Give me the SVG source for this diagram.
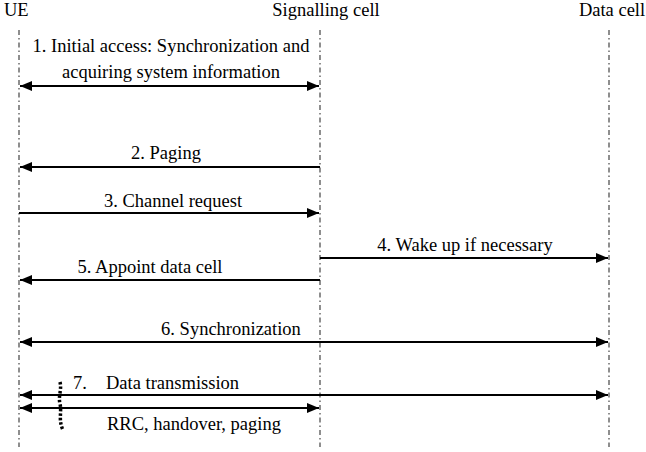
<svg xmlns="http://www.w3.org/2000/svg" width="646" height="452" viewBox="0 0 646 452">
<style>
text{font-family:"Liberation Serif","Times New Roman","DejaVu Serif",serif;font-size:18.5px;fill:#000}
.life{stroke:#444;stroke-width:1.2;stroke-dasharray:5 3 1.5 3;fill:none}
.msg{stroke:#000;stroke-width:2;fill:none}
</style>
<defs>
<marker id="ah" viewBox="0 0 12 10" refX="12" refY="5" markerWidth="12" markerHeight="10" markerUnits="userSpaceOnUse" orient="auto-start-reverse">
<path d="M0,0 L12,5 L0,10 Z" fill="#000"/>
</marker>
</defs>
<rect width="646" height="452" fill="#fff"/>
<g id="ue"><text x="4" y="16" font-family="Liberation Serif, serif">UE</text><line class="life" x1="19" y1="30" x2="19" y2="447"/></g>
<g id="signalling"><text x="326" y="16" text-anchor="middle">Signalling cell</text><line class="life" x1="320" y1="30" x2="320" y2="447"/></g>
<g id="datacell"><text x="612" y="16" text-anchor="middle">Data cell</text><line class="life" x1="609" y1="30" x2="609" y2="447"/></g>
<g id="connectors">
<line class="msg" x1="20" y1="86" x2="319" y2="86" marker-start="url(#ah)" marker-end="url(#ah)"/>
<text x="171" y="52" text-anchor="middle">1. Initial access: Synchronization and</text>
<text x="171" y="78" text-anchor="middle">acquiring system information</text>
<line class="msg" x1="320" y1="167" x2="20" y2="167" marker-end="url(#ah)"/>
<text x="166" y="159" text-anchor="middle">2. Paging</text>
<line class="msg" x1="19" y1="213" x2="319" y2="213" marker-end="url(#ah)"/>
<text x="173" y="207" text-anchor="middle">3. Channel request</text>
<line class="msg" x1="320" y1="258" x2="608" y2="258" marker-end="url(#ah)"/>
<text x="465" y="251" text-anchor="middle">4. Wake up if necessary</text>
<line class="msg" x1="320" y1="280" x2="20" y2="280" marker-end="url(#ah)"/>
<text x="150" y="273" text-anchor="middle">5. Appoint data cell</text>
<line class="msg" x1="20" y1="342" x2="608" y2="342" marker-start="url(#ah)" marker-end="url(#ah)"/>
<text x="231" y="335" text-anchor="middle">6. Synchronization</text>
<line class="msg" x1="20" y1="395" x2="608" y2="395" marker-start="url(#ah)" marker-end="url(#ah)"/>
<text x="73" y="389">7.</text>
<text x="106" y="389">Data transmission</text>
<line class="msg" x1="20" y1="408" x2="319" y2="408" marker-start="url(#ah)" marker-end="url(#ah)"/>
<text x="107" y="430">RRC, handover, paging</text>
<path d="M60,382 C62,390 58,396 60,404 C62,412 58,420 63,430" fill="none" stroke="#000" stroke-width="3.5" stroke-dasharray="2.5 2"/>
</g>
</svg>
